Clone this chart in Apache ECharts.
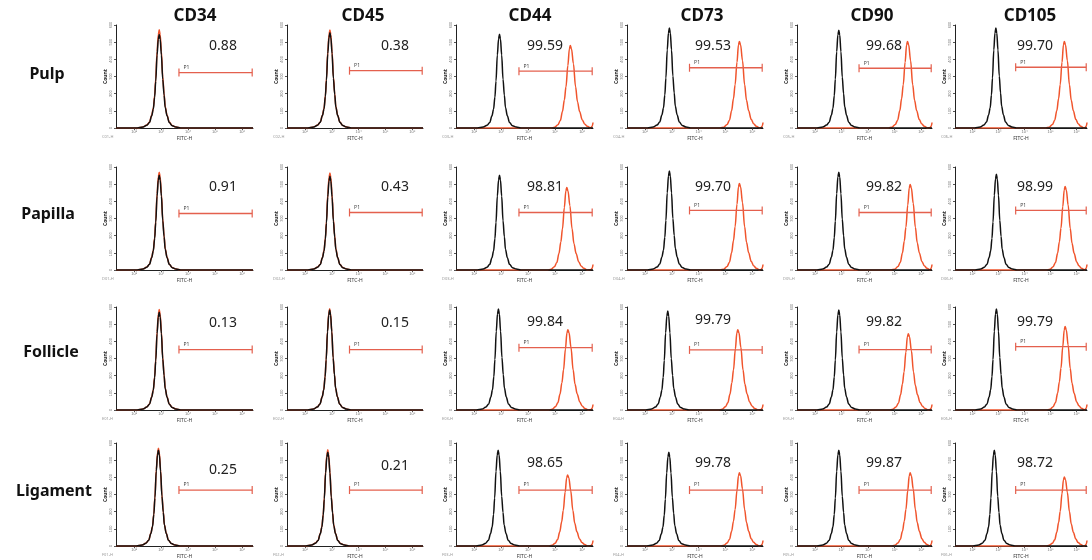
<!DOCTYPE html>
<html><head><meta charset="utf-8">
<script src="https://cdn.jsdelivr.net/npm/echarts@6/dist/echarts.min.js"></script>
<style>html,body{margin:0;padding:0;background:#fff}#c{width:1092px;height:560px}</style>
</head><body><div id="c"></div>
<script>
// ---------------- data ----------------
const markers = ['CD34','CD45','CD44','CD73','CD90','CD105'];
const tissues = ['Pulp','Papilla','Follicle','Ligament'];
const percentPositive = [
  ['0.88','0.38','99.59','99.53','99.68','99.70'],
  ['0.91','0.43','98.81','99.70','99.82','98.99'],
  ['0.13','0.15','99.84','99.79','99.82','99.79'],
  ['0.25','0.21','98.65','99.78','99.87','98.72']];
// isotype control (black) histogram peak: log10(FITC-H) and count
const isoPeakLog = [
  [2.93,2.93,2.94,2.91,2.90,2.90],
  [2.93,2.93,2.94,2.91,2.90,2.92],
  [2.93,2.92,2.90,2.85,2.90,2.92],
  [2.90,2.85,2.89,2.89,2.90,2.84]];
const isoPeakCount = [
  [545,555,546,582,570,582],
  [552,546,552,576,570,558],
  [570,582,588,576,582,588],
  [558,546,558,546,558,558]];
// marker-stained (orange) histogram peak
const markerPeakLog = [
  [2.93,2.93,5.56,5.52,5.48,5.53],
  [2.93,2.93,5.43,5.52,5.58,5.56],
  [2.93,2.92,5.47,5.46,5.51,5.56],
  [2.90,2.85,5.46,5.52,5.58,5.53]];
const markerPeakCount = [
  [572,571,480,504,504,504],
  [570,565,480,504,498,486],
  [585,590,468,468,444,486],
  [570,560,414,426,426,402]];
// shape of a narrow (isotype-like) peak: offset in decades, relative count
const narrowPeakOffset = [-0.82,-0.60,-0.46,-0.36,-0.28,-0.22,-0.17,-0.13,-0.08,-0.035,0,0.035,0.08,0.13,0.18,0.22,0.29,0.37,0.48,0.62,0.79];
const narrowPeakRel    = [0,0.01,0.03,0.06,0.13,0.20,0.33,0.50,0.78,0.95,1,0.95,0.78,0.52,0.35,0.22,0.13,0.06,0.025,0.01,0];
// shape of the positive peak
const widePeakOffset = [-0.71,-0.58,-0.46,-0.37,-0.29,-0.22,-0.16,-0.09,-0.035,0,0.045,0.115,0.195,0.265,0.345,0.44,0.53,0.63,0.75];
const widePeakRel    = [0,0.01,0.04,0.09,0.20,0.34,0.50,0.76,0.96,1,0.96,0.78,0.50,0.32,0.20,0.10,0.05,0.02,0];
// saturated events piling up at the top end of the FITC-H scale (positive samples)
const saturationLog = [6.32,6.37,6.40];
const saturationCount = [2,10,32];
// P1 gate
const gateLog = [3.66, 6.37];
const gateCount = [
  [323,334,331,351,348,354],
  [329,335,335,347,335,347],
  [352,352,363,350,352,369],
  [326,326,326,326,326,326]];
const xTickValues = [2,3,4,5,6];
const xTickLabels = ['10²','10³','10⁴','10⁵','10⁶'];
const yTickValues = [0,100,200,300,400,500,600];
const yTickLabels = ['0','100','200','300','400','500','600'];
const sampleIds = [
  ['C01-H','C02-H','C03-H','C04-H','C05-H','C06-H'],
  ['D01-H','D02-H','D03-H','D04-H','D05-H','D06-H'],
  ['E01-H','E02-H','E03-H','E04-H','E05-H','E06-H'],
  ['F01-H','F02-H','F03-H','F04-H','F05-H','F06-H']];

// ---------------- layout / style ----------------
const X_MIN = 1.33, X_MAX = 6.4;
const gridLeft = [116,287,456,627,797,955];
const gridWidth = [137,136,137,136,135,132];
const gridTop = [25,167,307,443];
const gridHeight = 103;
const titleX = [195,363,530,702,872,1030];
const rowLabelX = [47,48,51,54];
const rowLabelY = [74,214,352,491];
const pctDx = [107,108,89,86,87,80];
const pctDy = [[21,21,21,21,21,21],[20,20,20,20,20,20],[16,16,15,13,15,15],[27,23,20,20,20,20]];
const negativeCols = [0,1];
const BLACK = '#111111', ORANGE = '#f0542c', GATE = '#e4604e';
const FONT = '"Noto Sans", "Open Sans", sans-serif';

function curve(center, height, offs, rels, tail) {
  const pts = [[X_MIN, 0]];
  offs.forEach((o, i) => {
    const x = center + o;
    if (x > X_MIN && x < X_MAX && x > pts[pts.length-1][0]) pts.push([x, height * rels[i]]);
  });
  if (tail) {
    saturationLog.forEach((x, i) => { if (x > pts[pts.length-1][0]) pts.push([x, saturationCount[i]]); });
  } else pts.push([X_MAX, 0]);
  return pts;
}

const grids = [], xAxes = [], yAxes = [], series = [], graphics = [];
for (let r = 0; r < 4; r++) {
  for (let c = 0; c < 6; c++) {
    const gi = r * 6 + c;
    const neg = negativeCols.includes(c);
    grids.push({left: gridLeft[c], top: gridTop[r], width: gridWidth[c], height: gridHeight});
    xAxes.push({
      gridIndex: gi, type: 'value', min: X_MIN, max: X_MAX,
      axisLine: {show: true, lineStyle: {color: '#222', width: 1}},
      axisTick: {show: true, customValues: xTickValues, length: 2, lineStyle: {color: '#555'}},
      axisLabel: {show: true, customValues: xTickValues, fontSize: 4, color: '#777', margin: 2,
        formatter: v => xTickLabels[xTickValues.indexOf(v)] || ''},
      splitLine: {show: false},
      name: 'FITC-H', nameLocation: 'middle', nameGap: 8,
      nameTextStyle: {fontSize: 5, color: '#333', fontFamily: FONT}
    });
    yAxes.push({
      gridIndex: gi, type: 'value', min: 0, max: 600, interval: 100,
      axisLine: {show: true, lineStyle: {color: '#222', width: 1}},
      axisTick: {show: true, length: 2, lineStyle: {color: '#555'}},
      axisLabel: {show: true, fontSize: 4, color: '#777', margin: 3, rotate: 90,
        formatter: v => yTickLabels[yTickValues.indexOf(v)] || ''},
      splitLine: {show: false},
      name: 'Count', nameLocation: 'middle', nameGap: 8,
      nameTextStyle: {fontSize: 5, color: '#222', fontWeight: 'bold', fontFamily: FONT}
    });
    // marker (orange)
    series.push({
      type: 'line', xAxisIndex: gi, yAxisIndex: gi, silent: true, animation: false,
      showSymbol: false, smooth: 0.35, smoothMonotone: 'x', z: 2,
      lineStyle: {color: ORANGE, width: 1.5},
      data: neg ? curve(markerPeakLog[r][c], markerPeakCount[r][c], narrowPeakOffset, narrowPeakRel, false)
                : curve(markerPeakLog[r][c], markerPeakCount[r][c], widePeakOffset, widePeakRel, true)
    });
    // isotype (black)
    series.push({
      type: 'line', xAxisIndex: gi, yAxisIndex: gi, silent: true, animation: false,
      showSymbol: false, smooth: 0.35, smoothMonotone: 'x', z: 3,
      lineStyle: {color: BLACK, width: 1.5},
      data: curve(isoPeakLog[r][c], isoPeakCount[r][c], narrowPeakOffset, narrowPeakRel, false)
    });
    // P1 gate
    series.push({
      type: 'line', xAxisIndex: gi, yAxisIndex: gi, silent: true, animation: false,
      showSymbol: true, symbol: 'rect', symbolSize: [1.2, 8], z: 4,
      lineStyle: {color: GATE, width: 1.3}, itemStyle: {color: GATE},
      data: [
        {value: [gateLog[0], gateCount[r][c]],
         label: {show: true, formatter: 'P1', position: 'right', offset: [-1, -5], fontSize: 5, color: '#444', fontFamily: FONT}},
        {value: [gateLog[1], gateCount[r][c]]}
      ]
    });
    graphics.push({
      type: 'text', x: gridLeft[c] + pctDx[c], y: gridTop[r] + pctDy[r][c], silent: true,
      style: {text: percentPositive[r][c], fontSize: 14, fontFamily: FONT, fill: '#222',
        textAlign: 'center', textVerticalAlign: 'middle'}
    });
    graphics.push({
      type: 'text', x: gridLeft[c] - 14, y: gridTop[r] + gridHeight + 9, silent: true,
      style: {text: sampleIds[r][c], fontSize: 4, fontFamily: FONT, fill: '#999',
        textAlign: 'left', textVerticalAlign: 'middle'}
    });
  }
}
markers.forEach((m, c) => graphics.push({
  type: 'text', x: titleX[c], y: 16, silent: true,
  style: {text: m, fontSize: 17, fontWeight: 'bold', fontFamily: FONT, fill: '#111',
    textAlign: 'center', textVerticalAlign: 'middle'}
}));
tissues.forEach((t, r) => graphics.push({
  type: 'text', x: rowLabelX[r], y: rowLabelY[r], silent: true,
  style: {text: t, fontSize: 16, fontWeight: 'bold', fontFamily: FONT, fill: '#111',
    textAlign: 'center', textVerticalAlign: 'middle'}
}));

const chart = echarts.init(document.getElementById('c'), null, {renderer: 'canvas'});
chart.setOption({
  animation: false,
  backgroundColor: '#ffffff',
  grid: grids, xAxis: xAxes, yAxis: yAxes, series: series,
  graphic: {elements: graphics}
});
</script>
</body></html>
